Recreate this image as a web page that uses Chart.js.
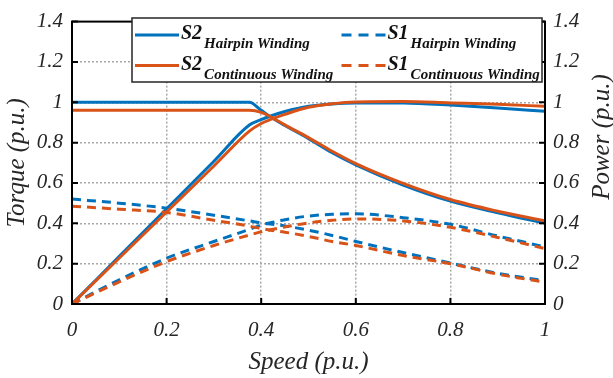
<!DOCTYPE html>
<html>
<head>
<meta charset="utf-8">
<title>Torque and power vs speed</title>
<script src="https://cdn.jsdelivr.net/npm/chart.js@4.4.0/dist/chart.umd.min.js"></script>
<style>
  html, body { margin: 0; padding: 0; background: #fff; }
  .preload { position: absolute; left: -9999px; font-family: "Liberation Serif"; }
</style>
</head>
<body>
<span class="preload"><i>Speed</i> <b><i>S2</i></b></span>
<canvas id="myChart" width="613" height="378"></canvas>
<script>
// speed grid (p.u.) shared by every curve
const speed = [0, 0.1, 0.2, 0.3, 0.375, 0.4, 0.42, 0.45, 0.5, 0.55, 0.6, 0.7, 0.8, 0.9, 1.0];

// S2 duty (solid lines)
const torqueS2Hairpin    = [1.0, 1.0, 1.0, 1.0, 1.0, 0.96, 0.927, 0.885, 0.82, 0.75, 0.69, 0.59, 0.51, 0.452, 0.40];
const torqueS2Continuous = [0.96, 0.96, 0.96, 0.96, 0.96, 0.95, 0.928, 0.888, 0.825, 0.757, 0.696, 0.598, 0.518, 0.46, 0.412];
const powerS2Hairpin     = [0, 0.236, 0.472, 0.708, 0.887, 0.914, 0.932, 0.954, 0.98, 0.992, 0.997, 0.996, 0.986, 0.972, 0.955];
const powerS2Continuous  = [0, 0.228, 0.456, 0.684, 0.857, 0.895, 0.915, 0.94, 0.975, 0.993, 1.002, 1.004, 0.997, 0.99, 0.98];

// S1 duty (dashed lines)
const torqueS1Hairpin    = [0.52, 0.50, 0.475, 0.44, 0.412, 0.402, 0.396, 0.387, 0.366, 0.34, 0.31, 0.255, 0.203, 0.152, 0.115];
const torqueS1Continuous = [0.485, 0.47, 0.454, 0.415, 0.386, 0.374, 0.366, 0.356, 0.335, 0.31, 0.29, 0.24, 0.2, 0.148, 0.108];
const powerS1Hairpin     = [0, 0.12, 0.227, 0.31, 0.37, 0.392, 0.403, 0.418, 0.436, 0.445, 0.447, 0.428, 0.395, 0.337, 0.283];
const powerS1Continuous  = [0, 0.11, 0.21, 0.29, 0.342, 0.358, 0.368, 0.382, 0.402, 0.415, 0.422, 0.412, 0.38, 0.33, 0.275];

const xTicks = [0, 0.2, 0.4, 0.6, 0.8, 1];
const yTicks = [0, 0.2, 0.4, 0.6, 0.8, 1, 1.2, 1.4];

const BLUE = "#0072BD";
const ORANGE = "#D95319";
const INK = "#262626";
const SERIF = "'Liberation Serif', 'Times New Roman', serif";

const legendItems = [
  { main: "S2", sub: "Hairpin Winding", color: BLUE, dashed: false },
  { main: "S1", sub: "Hairpin Winding", color: BLUE, dashed: true },
  { main: "S2", sub: "Continuous Winding", color: ORANGE, dashed: false },
  { main: "S1", sub: "Continuous Winding", color: ORANGE, dashed: true },
];

function pts(values) {
  return speed.map((s, i) => ({ x: s, y: values[i] }));
}

function series(label, values, color, dashed, axis, order) {
  return {
    label: label,
    data: pts(values),
    borderColor: color,
    backgroundColor: color,
    borderWidth: 3,
    borderDash: dashed ? [9, 6] : [],
    pointRadius: 0,
    cubicInterpolationMode: "monotone",
    yAxisID: axis,
    order: order,
  };
}

// MATLAB style box, inward ticks, right title and the legend
const framePlugin = {
  id: "frame",
  afterDraw(chart) {
    const ctx = chart.ctx;
    const a = chart.chartArea;
    const xs = chart.scales.x;
    const ys = chart.scales.y;
    ctx.save();
    ctx.strokeStyle = "#000";
    ctx.lineWidth = 2;
    ctx.setLineDash([]);
    ctx.strokeRect(a.left, a.top, a.right - a.left, a.bottom - a.top);

    const tl = 6;
    ctx.beginPath();
    xTicks.forEach((t) => {
      const px = xs.getPixelForValue(t);
      ctx.moveTo(px, a.bottom); ctx.lineTo(px, a.bottom - tl);
      ctx.moveTo(px, a.top); ctx.lineTo(px, a.top + tl);
    });
    yTicks.forEach((t) => {
      const py = ys.getPixelForValue(t);
      ctx.moveTo(a.left, py); ctx.lineTo(a.left + tl, py);
      ctx.moveTo(a.right, py); ctx.lineTo(a.right - tl, py);
    });
    ctx.stroke();

    // right axis title, reads bottom to top like the left one
    ctx.save();
    ctx.translate(602, 137);
    ctx.rotate(-Math.PI / 2);
    ctx.fillStyle = INK;
    ctx.font = "italic 25px " + SERIF;
    ctx.textAlign = "center";
    ctx.textBaseline = "middle";
    ctx.fillText("Power (p.u.)", 0, 0);
    ctx.restore();

    // legend
    const bx = 132, by = 18, bw = 410, bh = 64;
    ctx.fillStyle = "#fff";
    ctx.fillRect(bx, by, bw, bh);
    ctx.strokeStyle = INK;
    ctx.lineWidth = 1.5;
    ctx.strokeRect(bx, by, bw, bh);

    const colX = [135, 341.5];
    const rowY = [35, 65.5];
    legendItems.forEach((item, i) => {
      const x0 = colX[i % 2];
      const y0 = rowY[Math.floor(i / 2)];
      ctx.strokeStyle = item.color;
      ctx.lineWidth = 3;
      ctx.setLineDash(item.dashed ? [10, 7] : []);
      ctx.beginPath();
      ctx.moveTo(x0, y0);
      ctx.lineTo(x0 + 44, y0);
      ctx.stroke();
      ctx.setLineDash([]);

      ctx.fillStyle = "#111";
      ctx.textAlign = "left";
      ctx.textBaseline = "alphabetic";
      ctx.font = "italic bold 20px " + SERIF;
      const mx = x0 + 46;
      ctx.fillText(item.main, mx, y0 + 4);
      const w = ctx.measureText(item.main).width;
      ctx.font = "italic bold 15px " + SERIF;
      ctx.fillText(item.sub, mx + w + 2, y0 + 13);
    });
    ctx.restore();
  },
};

const tickFont = { family: SERIF, size: 21, style: "italic" };
const titleFont = { family: SERIF, size: 25, style: "italic" };
const gridColor = (c) =>
  c.tick && (c.tick.value <= 0 || c.tick.value >= 1.4 || (c.scale.id === "x" && c.tick.value >= 1))
    ? "rgba(0,0,0,0)"
    : "#a8a8a8";
const plain = (v) => String(v);

const ctx = document.getElementById("myChart").getContext("2d");

const config = {
  type: "line",
  data: {
    datasets: [
      series("S2 Hairpin Winding torque", torqueS2Hairpin, BLUE, false, "y", 2),
      series("S2 Hairpin Winding power", powerS2Hairpin, BLUE, false, "y2", 2),
      series("S2 Continuous Winding torque", torqueS2Continuous, ORANGE, false, "y", 1),
      series("S2 Continuous Winding power", powerS2Continuous, ORANGE, false, "y2", 1),
      series("S1 Hairpin Winding torque", torqueS1Hairpin, BLUE, true, "y", 2),
      series("S1 Hairpin Winding power", powerS1Hairpin, BLUE, true, "y2", 2),
      series("S1 Continuous Winding torque", torqueS1Continuous, ORANGE, true, "y", 1),
      series("S1 Continuous Winding power", powerS1Continuous, ORANGE, true, "y2", 1),
    ],
  },
  options: {
    responsive: false,
    animation: false,
    layout: { padding: { top: 12, left: 0, right: 0, bottom: 0 } },
    plugins: {
      legend: { display: false },
      tooltip: { enabled: false },
    },
    scales: {
      x: {
        type: "linear",
        min: 0,
        max: 1,
        afterBuildTicks: (s) => { s.ticks = xTicks.map((v) => ({ value: v })); },
        afterFit: (s) => { s.height = 74; },
        ticks: { font: tickFont, color: INK, padding: 14, maxRotation: 0, callback: plain },
        grid: { color: gridColor, lineWidth: 1.5, drawTicks: false },
        border: { display: false, dash: [2, 2] },
        title: { display: true, text: "Speed (p.u.)", font: titleFont, color: INK, padding: { top: 0, bottom: 1 } },
      },
      y: {
        position: "left",
        min: 0,
        max: 1.4,
        afterBuildTicks: (s) => { s.ticks = yTicks.map((v) => ({ value: v })); },
        afterFit: (s) => { s.width = 72; },
        ticks: { font: tickFont, color: INK, padding: 9, callback: plain },
        grid: { color: gridColor, lineWidth: 1.5, drawTicks: false },
        border: { display: false, dash: [2, 2] },
        title: { display: true, text: "Torque (p.u.)", font: titleFont, color: INK, padding: { top: 2, bottom: 0 } },
      },
      y2: {
        position: "right",
        min: 0,
        max: 1.4,
        afterBuildTicks: (s) => { s.ticks = yTicks.map((v) => ({ value: v })); },
        afterFit: (s) => { s.width = 68; },
        ticks: { font: tickFont, color: INK, padding: 8, callback: plain },
        grid: { drawOnChartArea: false, drawTicks: false },
        border: { display: false },
      },
    },
  },
  plugins: [framePlugin],
};

const chart = new Chart(ctx, config);

// system fonts can arrive a moment after the first paint
Promise.all([
  document.fonts.load("italic 21px 'Liberation Serif'"),
  document.fonts.load("italic bold 20px 'Liberation Serif'"),
]).then(() => chart.update());
</script>
</body>
</html>
